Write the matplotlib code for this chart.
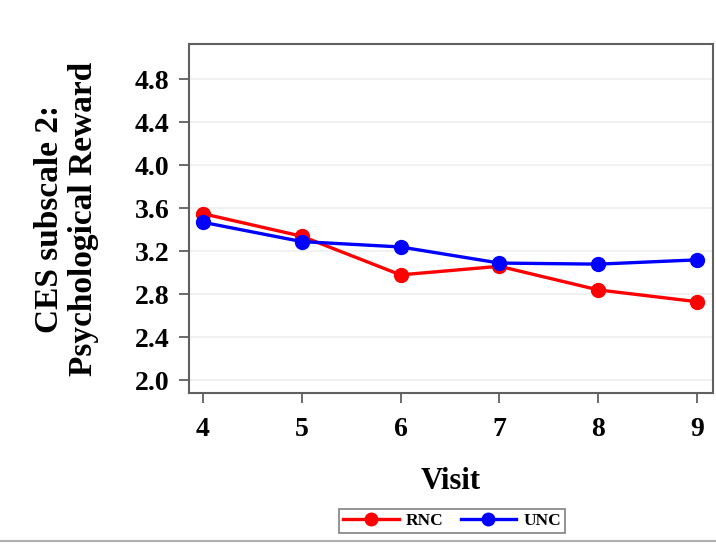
import numpy as np
import matplotlib.pyplot as plt
from matplotlib.lines import Line2D

# data
visits = [4, 5, 6, 7, 8, 9]
rnc = [3.55, 3.34, 2.98, 3.06, 2.84, 2.73]
unc = [3.47, 3.29, 3.24, 3.09, 3.08, 3.12]
yticks = [2.0, 2.4, 2.8, 3.2, 3.6, 4.0, 4.4, 4.8]

plt.rcParams['font.family'] = ['Liberation Serif', 'DejaVu Serif']
plt.rcParams['font.weight'] = 'bold'

fig = plt.figure(figsize=(7.16, 5.44), dpi=100)
ax = fig.add_axes([189 / 716, 1 - 393 / 544, (713 - 189) / 716, (393 - 44) / 544])

ax.plot(visits, rnc, color='#ff0000', lw=2.4, marker='o', ms=10, label='RNC')
ax.plot(visits, unc, color='#0000ff', lw=2.4, marker='o', ms=10, label='UNC')

ax.set_xlim(3.86, 9.16)
ax.set_ylim(1.88, 5.13)
ax.set_xticks(visits)
ax.set_yticks(yticks)
ax.set_yticklabels(['%.1f' % v for v in yticks])
ax.grid(axis='y', color='#efefef', lw=1.2)
ax.set_axisbelow(True)

for s in ax.spines.values():
    s.set_color('#606060')
    s.set_linewidth(1.5)
ax.tick_params(axis='both', direction='out', length=7, width=1.3, color='#606060',
               labelsize=20, pad=7)
ax.tick_params(axis='x', pad=10)

ax.set_xlabel('Visit', fontsize=22, fontweight='bold', labelpad=18)
ax.set_ylabel('CES subscale 2:\nPsychological Reward', fontsize=24, fontweight='bold',
              labelpad=26, linespacing=1.1)

handles = [Line2D([], [], color='#ff0000', lw=2.4, marker='o', ms=9),
           Line2D([], [], color='#0000ff', lw=2.4, marker='o', ms=9)]
leg = fig.legend(handles, ['RNC', 'UNC'], loc='center', bbox_to_anchor=(452 / 716, 1 - 521 / 544),
                 ncol=2, fontsize=12.5, frameon=True, fancybox=False, handlelength=3.2,
                 columnspacing=1.0, handletextpad=0.4, borderpad=0.25, borderaxespad=0)
leg.get_frame().set_edgecolor('#606060')
leg.get_frame().set_linewidth(1.2)

fig.add_artist(Line2D([0, 1], [1 - 541 / 544] * 2, color='#b0b0b0', lw=1.5))

fig.savefig('out.png', dpi=100)
